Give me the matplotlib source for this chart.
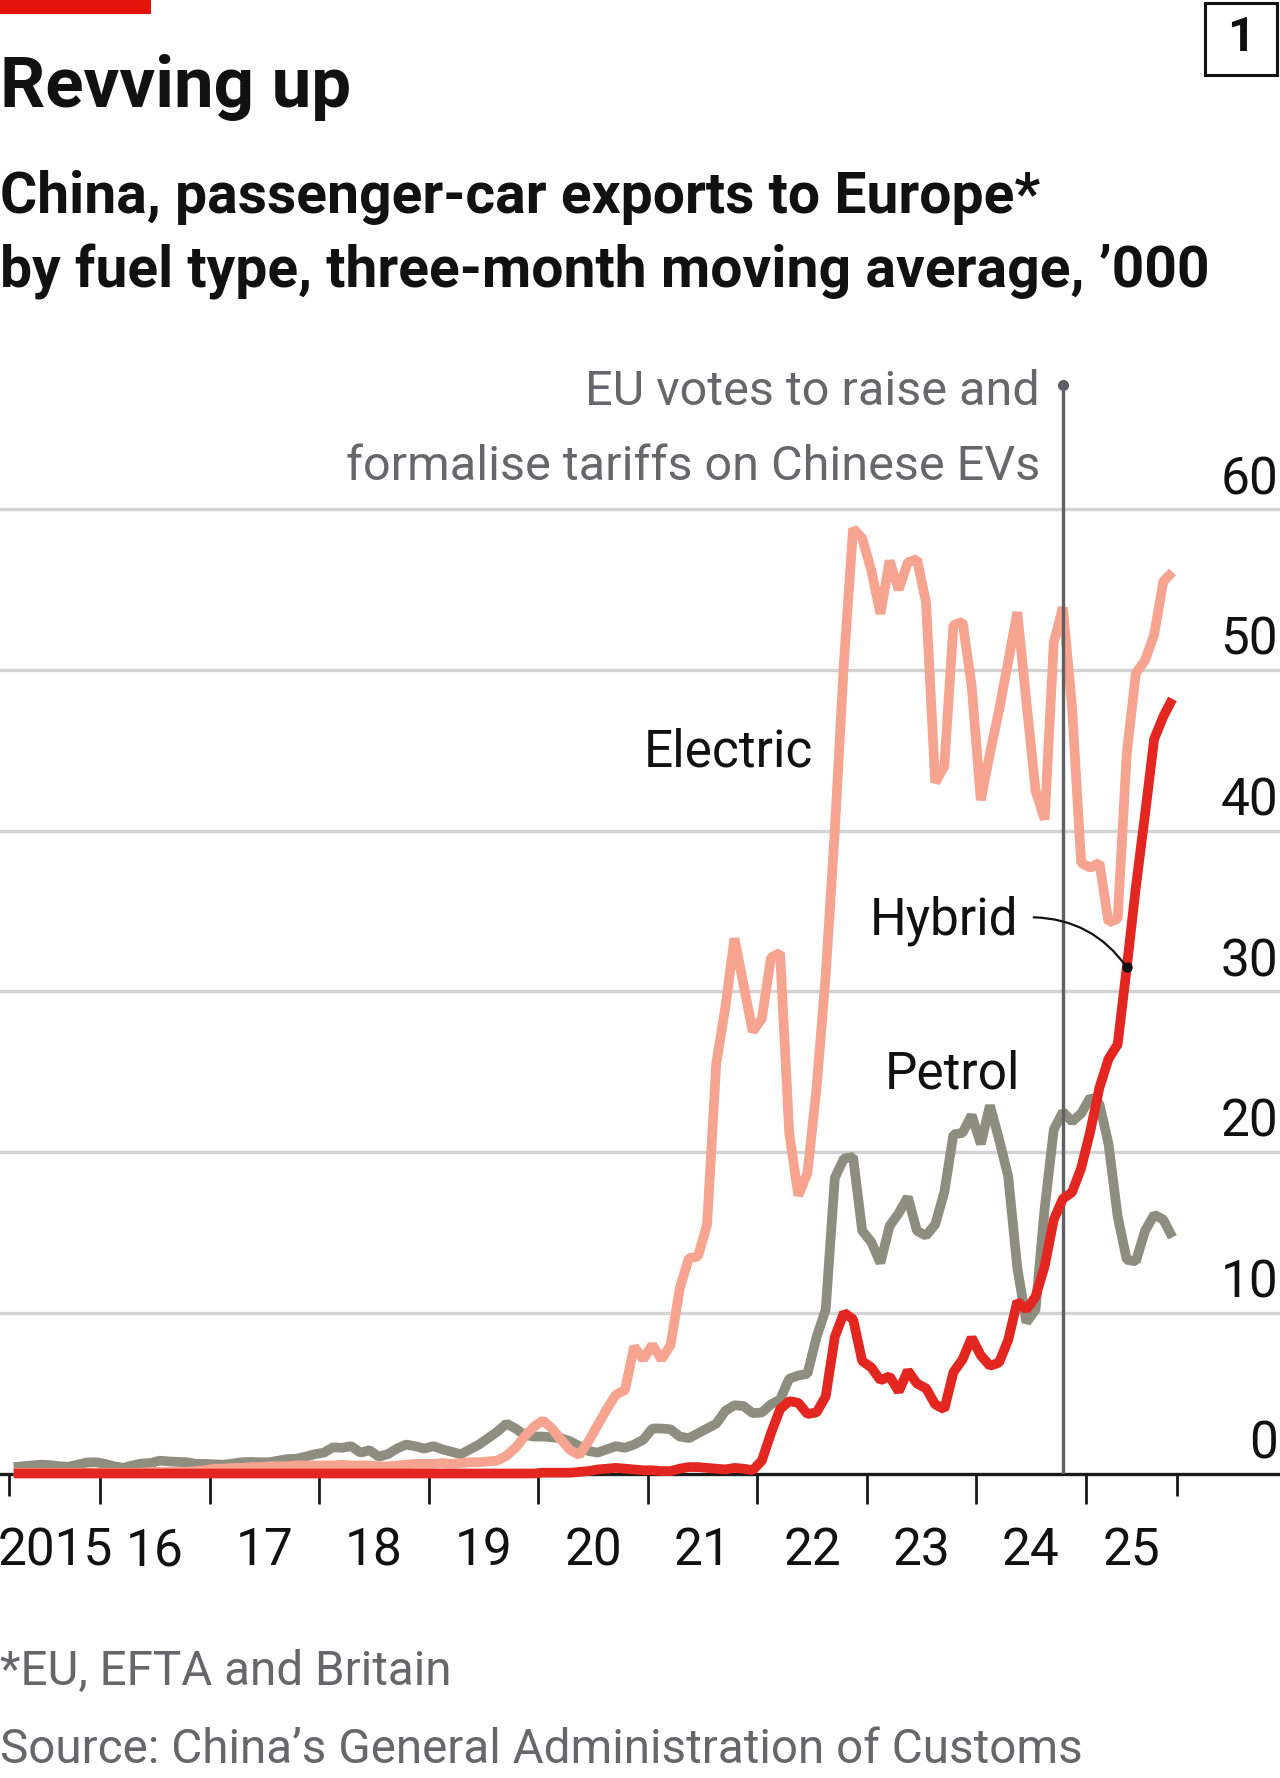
import matplotlib.pyplot as plt
import matplotlib.transforms as mtransforms
from matplotlib.patches import Rectangle
import numpy as np
import pandas as pd

plt.rcParams['font.family'] = ['Roboto', 'DejaVu Sans']

# China passenger-car exports to Europe, 3-month moving average, '000
months = pd.period_range('2015-03', '2025-10', freq='M')

electric = [
    0.05, 0.05, 0.05, 0.05, 0.05, 0.05, 0.05, 0.05, 0.05, 0.05,              # 2015
    0.05, 0.05, 0.05, 0.05, 0.05, 0.1, 0.1, 0.1, 0.1, 0.1, 0.15, 0.2,        # 2016
    0.3, 0.3, 0.35, 0.35, 0.4, 0.4, 0.45, 0.45, 0.45, 0.5, 0.5, 0.5,         # 2017
    0.5, 0.5, 0.55, 0.5, 0.5, 0.5, 0.45, 0.45, 0.5, 0.55, 0.6, 0.6,          # 2018
    0.6, 0.65, 0.6, 0.65, 0.7, 0.7, 0.75, 0.8, 1.1, 1.6, 2.3, 2.9,           # 2019
    3.3, 2.8, 2.1, 1.45, 1.15, 2.0, 3.0, 4.0, 4.9, 5.2, 7.9, 7.1,            # 2020
    8.0, 7.1, 8.0, 11.5, 13.4, 13.5, 15.5, 25.5, 29.0, 33.3, 30.4, 27.5,     # 2021
    28.3, 32.1, 32.4, 21.2, 17.3, 18.7, 24.0, 31.0, 40.0, 50.5, 58.8, 58.2,  # 2022
    56.2, 53.5, 56.8, 55.0, 56.7, 56.9, 54.2, 43.0, 44.0, 52.8, 53.0, 49.0,  # 2023
    41.9, 44.8, 47.5, 50.5, 53.6, 48.0, 42.5, 40.7, 51.7, 53.9, 47.7, 38.0,  # 2024
    37.7, 38.0, 34.3, 34.5, 44.8, 49.8, 50.6, 52.2, 55.5, 56.1,              # 2025
]

petrol = [
    0.4, 0.45, 0.5, 0.55, 0.52, 0.45, 0.42, 0.55, 0.68, 0.7,                 # 2015
    0.6, 0.45, 0.35, 0.5, 0.62, 0.65, 0.8, 0.75, 0.72, 0.7, 0.6, 0.6,        # 2016
    0.57, 0.55, 0.62, 0.7, 0.72, 0.7, 0.7, 0.8, 0.9, 0.92, 1.05, 1.2,        # 2017
    1.3, 1.63, 1.6, 1.7, 1.3, 1.45, 1.05, 1.2, 1.55, 1.8, 1.7, 1.55,         # 2018
    1.7, 1.5, 1.35, 1.2, 1.5, 1.8, 2.2, 2.6, 3.1, 2.8, 2.4, 2.3,             # 2019
    2.3, 2.25, 2.2, 2.0, 1.7, 1.4, 1.3, 1.5, 1.7, 1.6, 1.8, 2.1,             # 2020
    2.8, 2.8, 2.75, 2.3, 2.2, 2.5, 2.8, 3.1, 3.9, 4.25, 4.2, 3.75,           # 2021
    3.8, 4.3, 4.6, 5.9, 6.1, 6.2, 8.5, 10.2, 18.4, 19.6, 19.7, 15.1,         # 2022
    14.4, 13.1, 15.4, 16.2, 17.2, 15.1, 14.8, 15.5, 17.5, 21.1, 21.2, 22.3,  # 2023
    20.5, 22.9, 20.8, 18.5, 12.8, 9.4, 10.2, 16.5, 21.4, 22.5, 21.9, 22.4,   # 2024
    23.4, 23.0, 20.5, 16.0, 13.3, 13.2, 15.1, 16.1, 15.8, 14.7,              # 2025
]

hybrid = [
    0, 0, 0, 0, 0, 0, 0, 0, 0, 0,                                            # 2015
    0, 0, 0, 0, 0, 0, 0, 0, 0, 0, 0, 0,                                      # 2016
    0, 0, 0, 0, 0, 0, 0, 0, 0, 0, 0, 0,                                      # 2017
    0, 0, 0, 0, 0, 0, 0, 0, 0, 0, 0, 0,                                      # 2018
    0, 0, 0, 0, 0, 0, 0, 0, 0, 0, 0, 0,                                      # 2019
    0.05, 0.05, 0.05, 0.05, 0.1, 0.15, 0.25, 0.3, 0.35, 0.3, 0.25, 0.2,      # 2020
    0.2, 0.15, 0.15, 0.3, 0.4, 0.4, 0.35, 0.3, 0.25, 0.35, 0.3, 0.2,         # 2021
    0.8, 2.5, 4.0, 4.5, 4.4, 3.7, 3.8, 4.8, 8.5, 10.0, 9.6, 7.0,             # 2022
    6.6, 5.8, 6.05, 5.1, 6.4, 5.6, 5.3, 4.3, 4.0, 6.3, 7.1, 8.45,            # 2023
    7.35, 6.7, 6.9, 8.3, 10.7, 10.2, 11.0, 12.9, 15.8, 17.1, 17.5, 19.0,     # 2024
    21.3, 24.0, 25.8, 26.7, 31.5, 36.5, 41.0, 45.7, 47.1, 48.2,              # 2025
]

year_labels = ['2015', '16', '17', '18', '19', '20', '21', '22', '23', '24', '25']
y_ticks = [0, 10, 20, 30, 40, 50, 60]
event = pd.Period('2024-10', freq='M')
hybrid_label_at = pd.Period('2025-05', freq='M')

ELECTRIC = '#F6A390'
HYBRID = '#E3261F'
PETROL = '#8E8E80'
GREY_TXT = '#67676B'
RED = '#E3120B'
INK = '#111111'

W, H = 1280, 1778
FS = 37        # regular text
FS_NOTE = 35   # annotation
FS_FOOT = 34.3 # footnotes


def fx(px):
    return px / W


def fy(py):
    return 1 - py / H


# x as decimal years, points at mid-month
xs = months.year + (months.month - 0.5) / 12
x_start = months[0].year + (months[0].month - 1) / 12
x_end = months[-1].year + months[-1].month / 12
x_evt = event.year + (event.month - 0.5) / 12

fig = plt.figure(figsize=(W / 100, H / 100), dpi=100)

# axes spans the whole width, baseline at 1473px, top at 385px
ax = fig.add_axes([0, fy(1473.5), 1, (1473.5 - 385) / H])
x0 = 2015.083
ax.set_xlim(x0, x0 + W / 109.48)
ax.set_ylim(0, (1473.5 - 385) / 16.07)

for s in ['top', 'left', 'right']:
    ax.spines[s].set_visible(False)
ax.spines['bottom'].set_color('#1a1a1a')
ax.spines['bottom'].set_linewidth(2.4)
ax.set_yticks([])

ax.set_xticks(np.arange(2016, 2026))
ax.set_xticks([x_start, x_end], minor=True)
ax.tick_params(axis='x', which='major', length=21.6, width=2.0, color='#1a1a1a',
               labelbottom=False)
ax.tick_params(axis='x', which='minor', length=15.5, width=2.0, color='#1a1a1a',
               labelbottom=False)

for v in y_ticks[1:]:
    ax.axhline(v, color='#D3D3D3', lw=2.4, zorder=1)

# y labels sit above the gridlines on the right
ytrans = mtransforms.blended_transform_factory(ax.transAxes, ax.transData)
for v in y_ticks:
    ax.text(1278 / W, v + 0.95, str(v), transform=ytrans, ha='right', va='baseline',
            fontsize=FS, color=INK)

# year labels centred between ticks
bounds = [x_start] + list(range(2016, 2026)) + [x_end]
for i, lab in enumerate(year_labels):
    ax.text((bounds[i] + bounds[i + 1]) / 2, -5.7, lab, ha='center', va='baseline',
            fontsize=FS, color=INK, clip_on=False)

lw = 7.0
ax.plot(xs, petrol, color=PETROL, lw=lw, zorder=3, solid_joinstyle='bevel',
        solid_capstyle='butt', clip_on=False)
ax.plot(xs, electric, color=ELECTRIC, lw=lw, zorder=4, solid_joinstyle='bevel',
        solid_capstyle='butt', clip_on=False)

# EU vote marker
ax.axvline(x_evt, color='#5F6066', lw=2.4, zorder=4.5)
ax.plot([x_evt], [ax.get_ylim()[1]], 'o', color='#5F6066', ms=7, zorder=4.5,
        clip_on=False)
ax.text(x_evt - 0.21, 66.49, 'EU votes to raise and', ha='right', va='baseline',
        fontsize=FS_NOTE, color=GREY_TXT)
ax.text(x_evt - 0.21, 61.82, 'formalise tariffs on Chinese EVs', ha='right',
        va='baseline', fontsize=FS_NOTE, color=GREY_TXT)

ax.plot(xs, hybrid, color=HYBRID, lw=lw, zorder=5, solid_joinstyle='bevel',
        solid_capstyle='butt', clip_on=False)

# series labels
ax.text(2022.513, 44.0, 'Electric', ha='right', va='baseline', fontsize=FS, color=INK)
ax.text(2024.40, 23.95, 'Petrol', ha='right', va='baseline', fontsize=FS, color=INK)
ax.text(2024.386, 33.51, 'Hybrid', ha='right', va='baseline', fontsize=FS, color=INK)

i_dot = months.get_loc(hybrid_label_at)
ax.annotate('', xy=(xs[i_dot], hybrid[i_dot]), xytext=(-67, 36),
            textcoords='offset points',
            arrowprops=dict(arrowstyle='-', color=INK, lw=1.6,
                            connectionstyle='arc3,rad=-0.25',
                            shrinkA=0, shrinkB=0), zorder=6)
ax.plot([xs[i_dot]], [hybrid[i_dot]], 'o', color=INK, ms=6.5, zorder=7)

# header
fig.patches.append(Rectangle((0, fy(14)), fx(151), 14 / H, transform=fig.transFigure,
                             color=RED, lw=0))
fig.patches.append(Rectangle((fx(1205), fy(75)), fx(72), 72 / H,
                             transform=fig.transFigure, fill=False,
                             edgecolor=INK, lw=2.2))
fig.text(fx(1241), fy(38), '1', ha='center', va='center', fontsize=35,
         fontweight='bold', color=INK)

fig.text(0, fy(107), 'Revving up', fontsize=51, fontweight='bold', va='baseline',
         color=INK)
fig.text(0, fy(213), 'China, passenger-car exports to Europe*', fontsize=41,
         fontweight='bold', va='baseline', color=INK)
fig.text(0, fy(288), 'by fuel type, three-month moving average, \u2019000',
         fontsize=41, fontweight='bold', va='baseline', color=INK)

fig.text(0, fy(1685), '*EU, EFTA and Britain', fontsize=FS_FOOT, va='baseline',
         color=GREY_TXT)
fig.text(0, fy(1763), 'Source: China\u2019s General Administration of Customs',
         fontsize=FS_FOOT, va='baseline', color=GREY_TXT)

fig.savefig('out.png', dpi=100)
